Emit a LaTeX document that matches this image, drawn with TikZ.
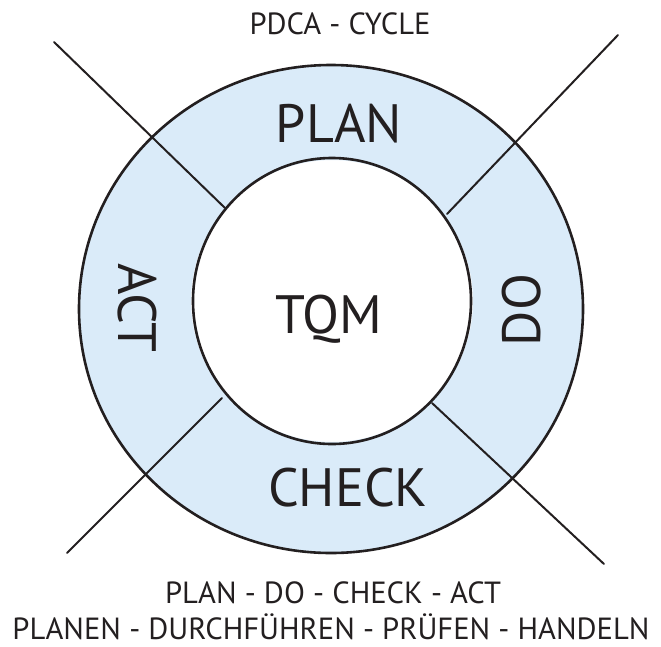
\documentclass[tikz,border=0pt]{standalone}
\usepackage{fontspec}
\setmainfont{PT Sans}
\usetikzlibrary{positioning}
\definecolor{ringblue}{RGB}{218,235,249}
\definecolor{ink}{RGB}{35,31,32}

\begin{document}
\begin{tikzpicture}[
  x=1pt, y=-1pt,
  rim/.style={line width=2.6pt, ink},
  spoke/.style={line width=2pt, ink, line cap=round},
  big/.style={font=\fontsize{54}{60}\selectfont, text=ink, inner sep=0pt},
  small/.style={font=\fontsize{30.6}{36}\selectfont, text=ink, inner sep=0pt}
]
\useasboundingbox (0,0) rectangle (661,646);

% Ring
\fill[ringblue, even odd rule] (331,309) ellipse [x radius=252, y radius=244]
  (332,301) circle [radius=141];
\draw[rim] (331,309) ellipse [x radius=252, y radius=244];
\draw[rim] (332,301) ellipse [x radius=139, y radius=143];

% Spokes
\coordinate (tlout) at (54,42);   \coordinate (tlin) at (225,208);
\coordinate (trout) at (618,35);  \coordinate (trin) at (447,214);
\coordinate (brout) at (604,564); \coordinate (brin) at (432,403);
\coordinate (blout) at (67,553);  \coordinate (blin) at (222,398);
\draw[spoke] (tlout) -- (tlin);
\draw[spoke] (trout) -- (trin);
\draw[spoke] (brout) -- (brin);
\draw[spoke] (blout) -- (blin);

% Ring labels
\node[big, anchor=base] (plan) at (339,142) {PLAN};
\node[big, rotate=90] (do) at (522,310) {DO};
\node[big, anchor=base] (check) at (348,506) {CHECK};
\node[big, rotate=-90] (act) at (137,308) {ACT};
\node[big, anchor=base] (tqm) at (329,333) {TQM};

% Captions
\node[small, anchor=base] (title) at (340,34) {PDCA - CYCLE};
\node[small, anchor=base] (steps) at (333,603) {PLAN - DO - CHECK - ACT};
\node[small, anchor=base] (stepsde) at (331,639) {PLANEN - DURCHFÜHREN - PRÜFEN - HANDELN};

\end{tikzpicture}
\end{document}
